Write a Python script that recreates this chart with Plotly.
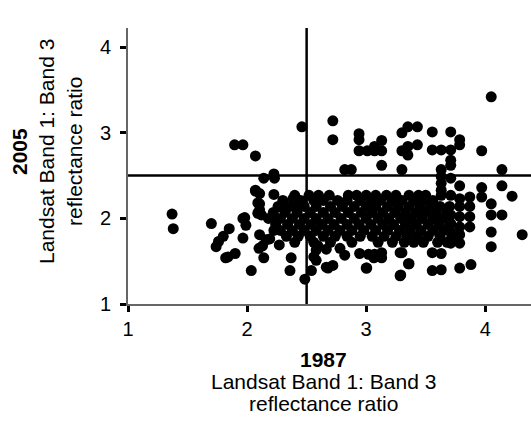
import plotly.graph_objects as go

# ---------------- data ----------------
# sparse / outlying points
sparse_x = [1.37, 1.38, 1.70, 1.74, 1.76, 1.80, 1.82, 1.85, 1.84, 1.90, 1.965, 1.98, 1.99, 1.965, 2.035,
            2.07, 2.09, 2.09, 2.105, 2.105, 2.105, 2.10, 2.13, 2.16, 2.14, 2.12, 2.19, 2.225, 2.225,
            2.14, 2.225, 2.23, 2.07, 2.105, 2.30, 2.385, 2.43, 2.245, 2.27]
sparse_y = [2.05, 1.88, 1.94, 1.67, 1.73, 1.79, 1.54, 1.88, 1.55, 1.59, 2.00, 2.01, 1.92, 1.77, 1.39,
            2.32, 2.18, 2.06, 2.29, 2.17, 1.81, 1.65, 1.68, 1.75, 1.54, 2.04, 1.76, 2.28, 1.86,
            2.47, 2.52, 2.47, 2.33, 2.10, 2.12, 2.23, 2.16, 2.00, 1.69]

# points above the 2.5 line
upper_x = [1.895, 1.965, 2.07, 2.46, 2.72, 2.72, 2.94, 2.94, 2.94, 3.01, 3.07, 3.07, 3.13, 3.13, 3.13,
           2.82, 2.875, 3.30, 3.30, 3.30, 3.35, 3.35, 3.35, 3.43, 3.43, 3.555, 3.71, 3.785, 3.785,
           3.555, 3.63, 3.71, 3.71, 3.71, 3.63, 3.97, 4.05, 4.14]
upper_y = [2.86, 2.86, 2.73, 3.07, 3.14, 2.92, 2.99, 2.92, 2.79, 2.79, 2.84, 2.79, 2.91, 2.79, 2.62,
           2.57, 2.57, 3.00, 2.79, 2.57, 3.07, 2.84, 2.74, 3.07, 2.86, 3.01, 3.01, 2.92, 2.86,
           2.80, 2.80, 2.80, 2.68, 2.62, 2.57, 2.79, 3.42, 2.57]

# right-hand column points
right_x = [3.63, 3.63, 3.63, 3.63, 3.71, 3.785, 3.97, 3.97, 4.14, 4.225, 4.05, 4.05, 4.05, 4.05, 4.14,
           4.31, 3.87, 3.87, 3.87, 3.87, 3.785, 3.785, 3.785, 3.785, 3.785, 3.785, 3.71, 3.71, 3.71,
           3.71, 3.71]
right_y = [2.49, 2.41, 2.33, 2.27, 2.47, 2.38, 2.36, 2.25, 2.38, 2.26, 2.17, 2.04, 1.84, 1.67, 2.04,
           1.81, 2.25, 2.14, 2.02, 1.90, 2.23, 2.14, 2.02, 1.90, 1.81, 1.71, 2.27, 2.04, 1.94,
           1.84, 1.71]

# points below the main band
low_x = [2.37, 2.36, 2.485, 2.54, 2.58, 2.665, 2.72, 2.68, 2.56, 2.58, 2.595, 2.665, 2.78, 2.82,
         2.945, 3.02, 3.07, 3.13, 3.065, 3.13, 3.0, 3.005, 3.285, 3.30, 3.36, 3.29, 3.355,
         3.555, 3.63, 3.555, 3.63, 3.785, 3.88, 3.285]
low_y = [1.54, 1.39, 1.29, 1.39, 1.51, 1.43, 1.45, 1.42, 1.55, 1.63, 1.68, 1.64, 1.65, 1.57,
         1.59, 1.58, 1.58, 1.60, 1.54, 1.54, 1.42, 1.42, 1.60, 1.60, 1.47, 1.34, 1.47,
         1.60, 1.59, 1.39, 1.40, 1.42, 1.46, 1.33]

# dense central band, row by row
band_rows_y = [2.27, 2.21, 2.14, 2.07, 2.00, 1.93, 1.86, 1.79, 1.72]
band_rows_x = [
    [2.40, 2.52, 2.60, 2.69, 2.85, 2.92, 3.00, 3.08, 3.17, 3.25, 3.36, 3.44, 3.50],
    [2.30, 2.45, 2.56, 2.64, 2.76, 2.84, 2.95, 3.04, 3.12, 3.22, 3.30, 3.40, 3.48, 3.56],
    [2.26, 2.36, 2.48, 2.58, 2.70, 2.80, 2.90, 3.00, 3.08, 3.18, 3.27, 3.36, 3.45, 3.54, 3.62, 3.70],
    [2.22, 2.32, 2.42, 2.53, 2.64, 2.74, 2.85, 2.96, 3.05, 3.14, 3.24, 3.33, 3.42, 3.50, 3.59, 3.68],
    [2.18, 2.28, 2.38, 2.48, 2.58, 2.68, 2.79, 2.90, 3.00, 3.10, 3.19, 3.29, 3.38, 3.47, 3.56, 3.64],
    [2.24, 2.34, 2.44, 2.54, 2.63, 2.73, 2.84, 2.94, 3.04, 3.14, 3.23, 3.33, 3.42, 3.52, 3.61, 3.70],
    [2.28, 2.38, 2.48, 2.58, 2.68, 2.78, 2.88, 2.98, 3.08, 3.18, 3.28, 3.37, 3.46, 3.56, 3.65],
    [2.33, 2.43, 2.53, 2.64, 2.74, 2.84, 2.95, 3.05, 3.15, 3.25, 3.34, 3.43, 3.52, 3.62, 3.72],
    [2.40, 2.56, 2.70, 2.88, 3.10, 3.22, 3.32, 3.40, 3.48, 3.60, 3.68],
]

x_ticks = [1, 2, 3, 4]
y_ticks = [1, 2, 3, 4]
threshold_x = 2.5
threshold_y = 2.5
x_range = [1, 4.384]
y_range = [1, 4.224]

# ---------------- assemble ----------------
band_x, band_y = [], []
for yv, xs in zip(band_rows_y, band_rows_x):
    band_x += xs
    band_y += [yv] * len(xs)

all_x = sparse_x + upper_x + right_x + low_x + band_x
all_y = sparse_y + upper_y + right_y + low_y + band_y

W, H = 531, 424
ML, MR, MT, MB = 128, 0, 28, 120
PW, PH = W - ML - MR, H - MT - MB

def px(xp):
    return (xp - ML) / PW

def py(yp):
    return (H - MB - yp) / PH

FONT = "Liberation Sans, Arial, sans-serif"

fig = go.Figure()
fig.add_trace(go.Scatter(x=all_x, y=all_y, mode="markers",
                         marker=dict(size=11, color="black", line=dict(width=0)),
                         hoverinfo="skip", showlegend=False))

fig.add_shape(type="line", xref="x", yref="paper", x0=threshold_x, x1=threshold_x, y0=0, y1=1,
              line=dict(color="black", width=2.5))
fig.add_shape(type="line", xref="paper", yref="y", x0=0, x1=1, y0=threshold_y, y1=threshold_y,
              line=dict(color="black", width=2.5))

axis_common = dict(showline=True, linecolor="#666", linewidth=1.5, ticks="outside", ticklen=6,
                   tickwidth=2.5, tickcolor="black", showgrid=False, zeroline=False,
                   tickfont=dict(family=FONT, size=20, color="black"))
fig.update_xaxes(range=x_range, tickvals=x_ticks, ticklabelstandoff=0, **axis_common)
fig.update_yaxes(range=y_range, tickvals=y_ticks, showticklabels=False, **axis_common)

# y tick labels placed explicitly (further from the axis than plotly's default)
for t in y_ticks:
    fig.add_annotation(text=str(t), xref="paper", yref="y", x=px(113), y=t,
                       xanchor="right", yanchor="middle", showarrow=False,
                       font=dict(family=FONT, size=20, color="black"))

# x title (three lines)
for txt, yp in [("<b>1987</b>", 359), ("Landsat Band 1: Band 3", 381), ("reflectance ratio", 403)]:
    fig.add_annotation(text=txt, xref="paper", yref="paper", x=px(323), y=py(yp),
                       xanchor="center", yanchor="middle", showarrow=False,
                       font=dict(family=FONT, size=21, color="black"))
# y title (three rotated lines)
for txt, xp in [("<b>2005</b>", 19), ("Landsat Band 1: Band 3", 46), ("reflectance ratio", 74)]:
    fig.add_annotation(text=txt, xref="paper", yref="paper", x=px(xp), y=py(152),
                       xanchor="center", yanchor="middle", textangle=-90, showarrow=False,
                       font=dict(family=FONT, size=21, color="black"))

fig.update_layout(width=W, height=H, margin=dict(l=ML, r=MR, t=MT, b=MB),
                  plot_bgcolor="white", paper_bgcolor="white")

fig.write_html("out.html")
